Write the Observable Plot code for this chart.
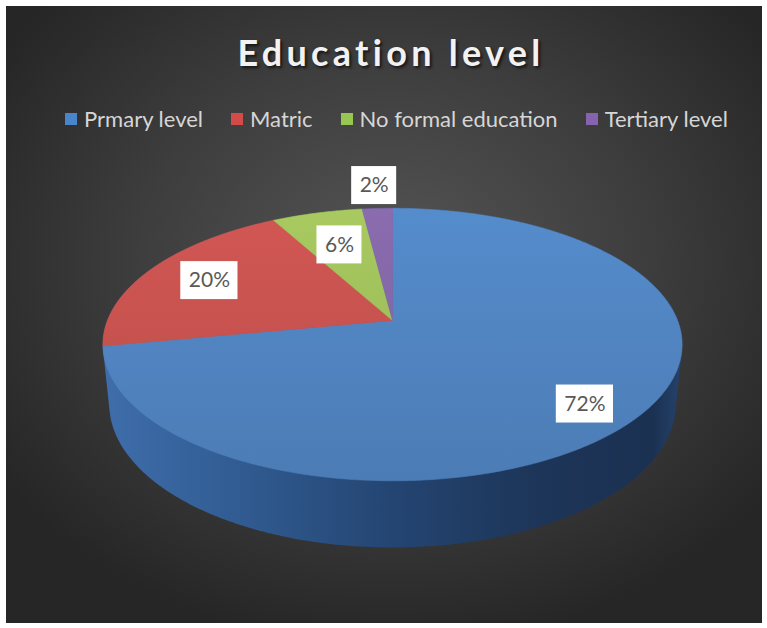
<!DOCTYPE html>
<html>
<head>
<meta charset="utf-8">
<script src="https://cdn.jsdelivr.net/npm/d3@7"></script>
<script src="https://cdn.jsdelivr.net/npm/@observablehq/plot@0.6"></script>
<style>
  html, body { margin: 0; padding: 0; background: #ffffff; }
  #wrap { position: relative; width: 767px; height: 628px; overflow: hidden; }
  #panel { position: absolute; left: 6px; top: 6px; width: 756px; height: 617px;
    background: radial-gradient(ellipse 62% 62% at 51% 42%, #555555 0%, #3d3d3d 55%, #262626 100%); }
  #title { position: absolute; left: 0; top: 34px; width: 782px; text-align: center;
    font: 700 36px/36px Lato, "Open Sans", sans-serif; color: #f2f2f2; letter-spacing: 4.3px;
    text-shadow: 2px 2px 3px rgba(0,0,0,0.65); white-space: nowrap; }
  #legend { position: absolute; left: 0; top: 108px; width: 793px; height: 22px;
    display: flex; justify-content: center; align-items: center;
    font: 400 22px/22px Lato, "Open Sans", sans-serif; color: #d6d6d6; white-space: nowrap; }
  .item { display: flex; align-items: center; margin: 0 14px; }
  .key { width: 12px; height: 12px; margin-right: 7px; }
  #chart { position: absolute; left: 0; top: 0; }
</style>
</head>
<body>
<div id="wrap">
  <div id="panel"></div>
  <div id="title"></div>
  <div id="legend"></div>
  <div id="chart"></div>
</div>
<script>
// ---- data ----
const titleText = "Education level";
const categories = ["Prmary level", "Matric", "No formal education", "Tertiary level"];
const values = [72, 20, 6, 2];
const labels = ["72%", "20%", "6%", "2%"];

// ---- styles ----
const sliceColors = ["#4f81bd", "#c2504d", "#9bbb59", "#8064a2"];
const keyColors = ["#4a84cc", "#d34b48", "#97c653", "#8663ae"];
const labelRadius = [0.8, 0.75, 0.67, 1.25]; // radial placement of each label (fraction of radius)
const labelDepth = [0.15, 0, 0, 0];          // placement down the pie's thickness

// ---- 3D perspective projection of the pie disk ----
const W = 767, H = 628;
const tilt = Math.asin(0.463);
const S = Math.sin(tilt), C = Math.cos(tilt);
const cam = {cx: 392, cy: 320, k: 1431, d: 5.02, h: 0.237};
function proj(u, v, depth) {
  const ys = -v * S + depth * cam.h * C;
  const z = cam.d + v * C + depth * cam.h * S;
  return [cam.cx + cam.k * u / z, cam.cy + cam.k * ys / z];
}

document.getElementById("title").textContent = titleText;
const legend = document.getElementById("legend");
categories.forEach((c, i) => {
  const it = document.createElement("div");
  it.className = "item";
  it.innerHTML = `<span class="key" style="background:${keyColors[i]}"></span><span>${c}</span>`;
  legend.appendChild(it);
});

const arcs = d3.pie().sort(null).startAngle(0).endAngle(2 * Math.PI)(values);

// slice polygons on the top face
const sliceRows = arcs.map((a, i) => {
  const pts = [];
  const [ax, ay] = proj(0, 0, 0);
  pts.push({x: ax, y: ay});
  const n = Math.max(4, Math.ceil((a.endAngle - a.startAngle) / (Math.PI / 360)));
  for (let j = 0; j <= n; j++) {
    const t = a.startAngle + (a.endAngle - a.startAngle) * j / n;
    const [x, y] = proj(Math.sin(t), Math.cos(t), 0);
    pts.push({x, y});
  }
  pts.push({x: ax, y: ay});
  return pts;
});

// silhouette of the whole cylinder (top + bottom faces)
const allPts = [];
for (let j = 0; j < 720; j++) {
  const t = j / 720 * 2 * Math.PI;
  allPts.push(proj(Math.sin(t), Math.cos(t), 0));
  allPts.push(proj(Math.sin(t), Math.cos(t), 1));
}
const hull = d3.polygonHull(allPts).map(([x, y]) => ({x, y}));
hull.push(hull[0]);
const bottom = [];
for (let j = 0; j <= 720; j++) {
  const t = j / 720 * 2 * Math.PI;
  const [x, y] = proj(Math.sin(t) * 1.01, Math.cos(t) * 1.01, 1.02);
  bottom.push({x, y});
}

// labels
const fontLabel = "21px Lato";
const ctx = document.createElement("canvas").getContext("2d");
ctx.font = fontLabel;
const labelData = arcs.map((a, i) => {
  const m = (a.startAngle + a.endAngle) / 2;
  const r = labelRadius[i];
  const [x, y] = proj(r * Math.sin(m), r * Math.cos(m), labelDepth[i]);
  const w = ctx.measureText(labels[i]).width + 16;
  return {x, y, text: labels[i], x1: x - w / 2, x2: x + w / 2, y1: y - 19, y2: y + 19};
});

const topY = d3.extent(allPts.filter((p, i) => i % 2 === 0), p => p[1]);
const hullX = d3.extent(hull, p => p.x);

const plot = Plot.plot({
  width: W, height: H, margin: 0,
  x: {domain: [0, W], range: [0, W], axis: null},
  y: {domain: [0, H], range: [0, H], axis: null},
  style: {background: "transparent", overflow: "visible"},
  marks: [
    Plot.line(bottom, {x: "x", y: "y", fill: "#000", fillOpacity: 0.8, stroke: "none", dx: 3, dy: 3, ariaLabel: "shadow"}),
    Plot.line(hull, {x: "x", y: "y", fill: "url(#side)", stroke: "none"}),
    ...sliceRows.map((rows, i) =>
      Plot.line(rows, {x: "x", y: "y", fill: `url(#g${i})`, stroke: `url(#g${i})`, strokeWidth: 0.6, curve: "linear-closed"})),
    Plot.rect(labelData, {x1: "x1", x2: "x2", y1: "y1", y2: "y2", fill: "#ffffff"}),
    Plot.text(labelData, {x: "x", y: "y", text: "text", fill: "#595959", fontSize: 21, fontFamily: "Lato, sans-serif"})
  ]
});

// gradient definitions
const grads = sliceColors.map((c, i) => {
  const light = d3.color(c).brighter(0.22).formatHex();
  const dark = d3.color(c).darker(0.12).formatHex();
  return `<linearGradient id="g${i}" gradientUnits="userSpaceOnUse" x1="0" y1="${topY[0]}" x2="0" y2="${topY[1]}">
    <stop offset="0" stop-color="${light}"/><stop offset="1" stop-color="${dark}"/></linearGradient>`;
}).join("");
plot.insertAdjacentHTML("afterbegin", `<defs>${grads}
  <linearGradient id="side" gradientUnits="userSpaceOnUse" x1="${hullX[0]}" y1="0" x2="${hullX[1]}" y2="0">
    <stop offset="0" stop-color="#3f6eab"/>
    <stop offset="0.25" stop-color="#305a90"/>
    <stop offset="0.5" stop-color="#244572"/>
    <stop offset="0.75" stop-color="#1d3558"/>
    <stop offset="0.95" stop-color="#1b3152"/>
    <stop offset="1" stop-color="#26436c"/>
  </linearGradient>
  <filter id="blur" x="-10%" y="-10%" width="120%" height="130%"><feGaussianBlur stdDeviation="4"/></filter>
</defs>`);
const sh = plot.querySelector('[aria-label="shadow"]');
if (sh) sh.setAttribute("filter", "url(#blur)");

document.getElementById("chart").appendChild(plot);
</script>
</body>
</html>
